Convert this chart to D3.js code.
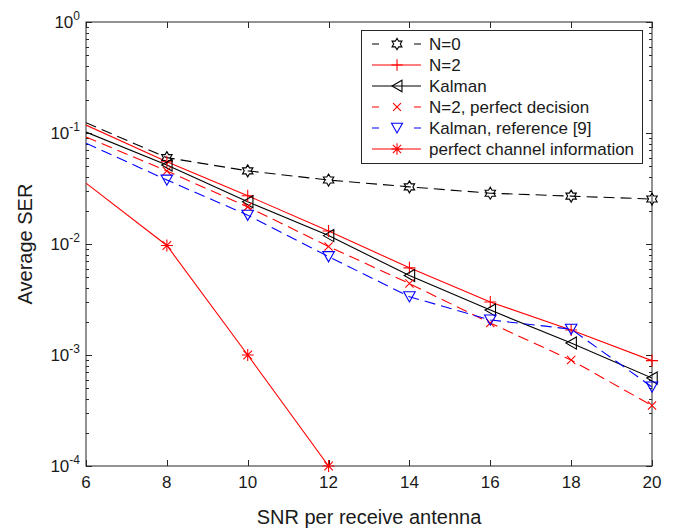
<!DOCTYPE html>
<html>
<head>
<meta charset="utf-8">
<script src="https://cdn.jsdelivr.net/npm/d3@7"></script>
<style>
  html, body { margin: 0; padding: 0; background: #fff; }
  svg { display: block; font-family: "Liberation Sans", Arial, Helvetica, sans-serif; }
</style>
</head>
<body>
<svg id="chart" width="676" height="529"></svg>
<script>
// SNR grid of the simulation (dB per receive antenna)
const snr = [6, 8, 10, 12, 14, 16, 18, 20];
// Markers are placed on the evaluated points from 8 dB upward
const markerFrom = 8;

// Average SER per curve
const serN0        = [0.124, 0.060, 0.0456, 0.0377, 0.0327, 0.0287, 0.0270, 0.0254];
const serN2        = [0.118, 0.055, 0.0272, 0.0131, 0.0061, 0.0030, 0.00168, 0.00089];
const serKalman    = [0.102, 0.0515, 0.0240, 0.0119, 0.0052, 0.00254, 0.00128, 0.00062];
const serN2Perfect = [0.092, 0.0455, 0.0216, 0.0095, 0.0044, 0.00194, 0.00090, 0.00035];
const serKalmanRef = [0.081, 0.0377, 0.0182, 0.0077, 0.00335, 0.00207, 0.00171, 0.000515];
const snrPerfectCh = [6, 8, 10, 12];
const serPerfectCh = [0.0354, 0.0097, 0.0010, 0.0001];

const seriesNames = ["N=0", "N=2", "Kalman", "N=2, perfect decision",
                     "Kalman, reference [9]", "perfect channel information"];

const xTicks = [6, 8, 10, 12, 14, 16, 18, 20];
const yDecades = [-4, -3, -2, -1, 0];

const series = [
  { name: seriesNames[0], x: snr, y: serN0,        color: "#000000", dash: true,  marker: "hexagram" },
  { name: seriesNames[1], x: snr, y: serN2,        color: "#ff0000", dash: false, marker: "plus" },
  { name: seriesNames[2], x: snr, y: serKalman,    color: "#000000", dash: false, marker: "triLeft" },
  { name: seriesNames[3], x: snr, y: serN2Perfect, color: "#ff0000", dash: true,  marker: "cross" },
  { name: seriesNames[4], x: snr, y: serKalmanRef, color: "#0000ff", dash: true,  marker: "triDown" },
  { name: seriesNames[5], x: snrPerfectCh, y: serPerfectCh, color: "#ff0000", dash: false, marker: "asterisk" }
];

const svg = d3.select("#chart");
const pLeft = 86, pRight = 652, pTop = 22, pBottom = 466;

const x = d3.scaleLinear().domain([6, 20]).range([pLeft, pRight]);
const y = d3.scaleLog().domain([1e-4, 1]).range([pBottom, pTop]);

const axisColor = "#262626";

// Marker path builders
function markerPath(type, r) {
  const p = d3.path();
  if (type === "hexagram") {
    const ri = r / Math.sqrt(3);
    for (let i = 0; i < 12; i++) {
      const a = -Math.PI / 2 + i * Math.PI / 6;
      const rr = i % 2 === 0 ? r : ri;
      const px = rr * Math.cos(a), py = rr * Math.sin(a);
      if (i === 0) p.moveTo(px, py); else p.lineTo(px, py);
    }
    p.closePath();
  } else if (type === "plus") {
    p.moveTo(-r, 0); p.lineTo(r, 0);
    p.moveTo(0, -r); p.lineTo(0, r);
  } else if (type === "cross") {
    const k = r * 0.75;
    p.moveTo(-k, -k); p.lineTo(k, k);
    p.moveTo(-k, k); p.lineTo(k, -k);
  } else if (type === "asterisk") {
    p.moveTo(-r, 0); p.lineTo(r, 0);
    p.moveTo(0, -r); p.lineTo(0, r);
    const k = r * 0.72;
    p.moveTo(-k, -k); p.lineTo(k, k);
    p.moveTo(-k, k); p.lineTo(k, -k);
  } else if (type === "triLeft") {
    p.moveTo(-r * 0.95, 0); p.lineTo(r * 0.95, -r * 1.1); p.lineTo(r * 0.95, r * 1.1); p.closePath();
  } else if (type === "triDown") {
    p.moveTo(-r * 1.05, -r * 0.9); p.lineTo(r * 1.05, -r * 0.9); p.lineTo(0, r * 0.95); p.closePath();
  }
  return p.toString();
}
const markerSize = { hexagram: 6, plus: 6, cross: 5.5, asterisk: 6, triLeft: 5.5, triDown: 5.5 };

// Clip region = axes box
svg.append("defs").append("clipPath").attr("id", "plotClip")
  .append("rect").attr("x", pLeft).attr("y", pTop)
  .attr("width", pRight - pLeft).attr("height", pBottom - pTop);

// Axes box and ticks
const axes = svg.append("g").attr("stroke", axisColor).attr("stroke-width", 1);
axes.append("rect").attr("x", pLeft).attr("y", pTop)
  .attr("width", pRight - pLeft).attr("height", pBottom - pTop).attr("fill", "none");

xTicks.forEach(t => {
  const xp = Math.round(x(t)) + 0.5;
  axes.append("line").attr("x1", xp).attr("x2", xp).attr("y1", pBottom).attr("y2", pBottom - 6);
  axes.append("line").attr("x1", xp).attr("x2", xp).attr("y1", pTop).attr("y2", pTop + 6);
});

yDecades.forEach(k => {
  const yp = Math.round(y(Math.pow(10, k))) + 0.5;
  axes.append("line").attr("x1", pLeft).attr("x2", pLeft + 6).attr("y1", yp).attr("y2", yp);
  axes.append("line").attr("x1", pRight).attr("x2", pRight - 6).attr("y1", yp).attr("y2", yp);
  if (k < 0) {
    for (let m = 2; m <= 9; m++) {
      const ym = Math.round(y(m * Math.pow(10, k))) + 0.5;
      axes.append("line").attr("x1", pLeft).attr("x2", pLeft + 3).attr("y1", ym).attr("y2", ym);
      axes.append("line").attr("x1", pRight).attr("x2", pRight - 3).attr("y1", ym).attr("y2", ym);
    }
  }
});

// Tick labels
const labels = svg.append("g").attr("fill", "#1a1a1a");
xTicks.forEach(t => {
  labels.append("text").attr("x", x(t)).attr("y", pBottom + 22)
    .attr("text-anchor", "middle").attr("font-size", 17).text(t);
});
yDecades.forEach(k => {
  const t = labels.append("text").attr("x", pLeft - 6).attr("y", y(Math.pow(10, k)) + 6)
    .attr("text-anchor", "end").attr("font-size", 17);
  t.append("tspan").text("10");
  t.append("tspan").attr("dy", -8).attr("font-size", 12).text(k);
});

// Axis titles
labels.append("text").attr("x", (pLeft + pRight) / 2).attr("y", 524)
  .attr("text-anchor", "middle").attr("font-size", 20).text("SNR per receive antenna");
labels.append("text").attr("transform", `translate(32,${(pTop + pBottom) / 2}) rotate(-90)`)
  .attr("text-anchor", "middle").attr("font-size", 20).text("Average SER");

// Curves
const plot = svg.append("g").attr("clip-path", "url(#plotClip)");
const line = d3.line().x(d => x(d[0])).y(d => y(d[1]));

series.forEach(s => {
  const pts = s.x.map((v, i) => [v, s.y[i]]);
  plot.append("path").datum(pts).attr("d", line)
    .attr("fill", "none").attr("stroke", s.color).attr("stroke-width", 1.1)
    .attr("stroke-dasharray", s.dash ? "11,6" : null);
});

const markers = svg.append("g");
series.forEach(s => {
  s.x.forEach((v, i) => {
    if (v < markerFrom) return;
    markers.append("path")
      .attr("transform", `translate(${x(v)},${y(s.y[i])})`)
      .attr("d", markerPath(s.marker, markerSize[s.marker]))
      .attr("fill", "none").attr("stroke", s.color).attr("stroke-width", 1.1);
  });
});

// Legend
const lg = svg.append("g");
const lgX = 361, lgY = 30, lgW = 281, lgH = 133;
lg.append("rect").attr("x", lgX + 0.5).attr("y", lgY + 0.5).attr("width", lgW).attr("height", lgH)
  .attr("fill", "#fff").attr("stroke", axisColor).attr("stroke-width", 1);
series.forEach((s, i) => {
  const ry = 44 + i * 21;
  lg.append("line").attr("x1", 372).attr("x2", 421).attr("y1", ry).attr("y2", ry)
    .attr("stroke", s.color).attr("stroke-width", 1.1)
    .attr("stroke-dasharray", s.dash ? "7,35,7" : null);
  lg.append("path").attr("transform", `translate(397,${ry})`)
    .attr("d", markerPath(s.marker, markerSize[s.marker] * 0.95))
    .attr("fill", "none").attr("stroke", s.color).attr("stroke-width", 1.1);
  lg.append("text").attr("x", 429).attr("y", ry + 6).attr("font-size", 17)
    .attr("fill", "#1a1a1a").text(s.name);
});
</script>
</body>
</html>
